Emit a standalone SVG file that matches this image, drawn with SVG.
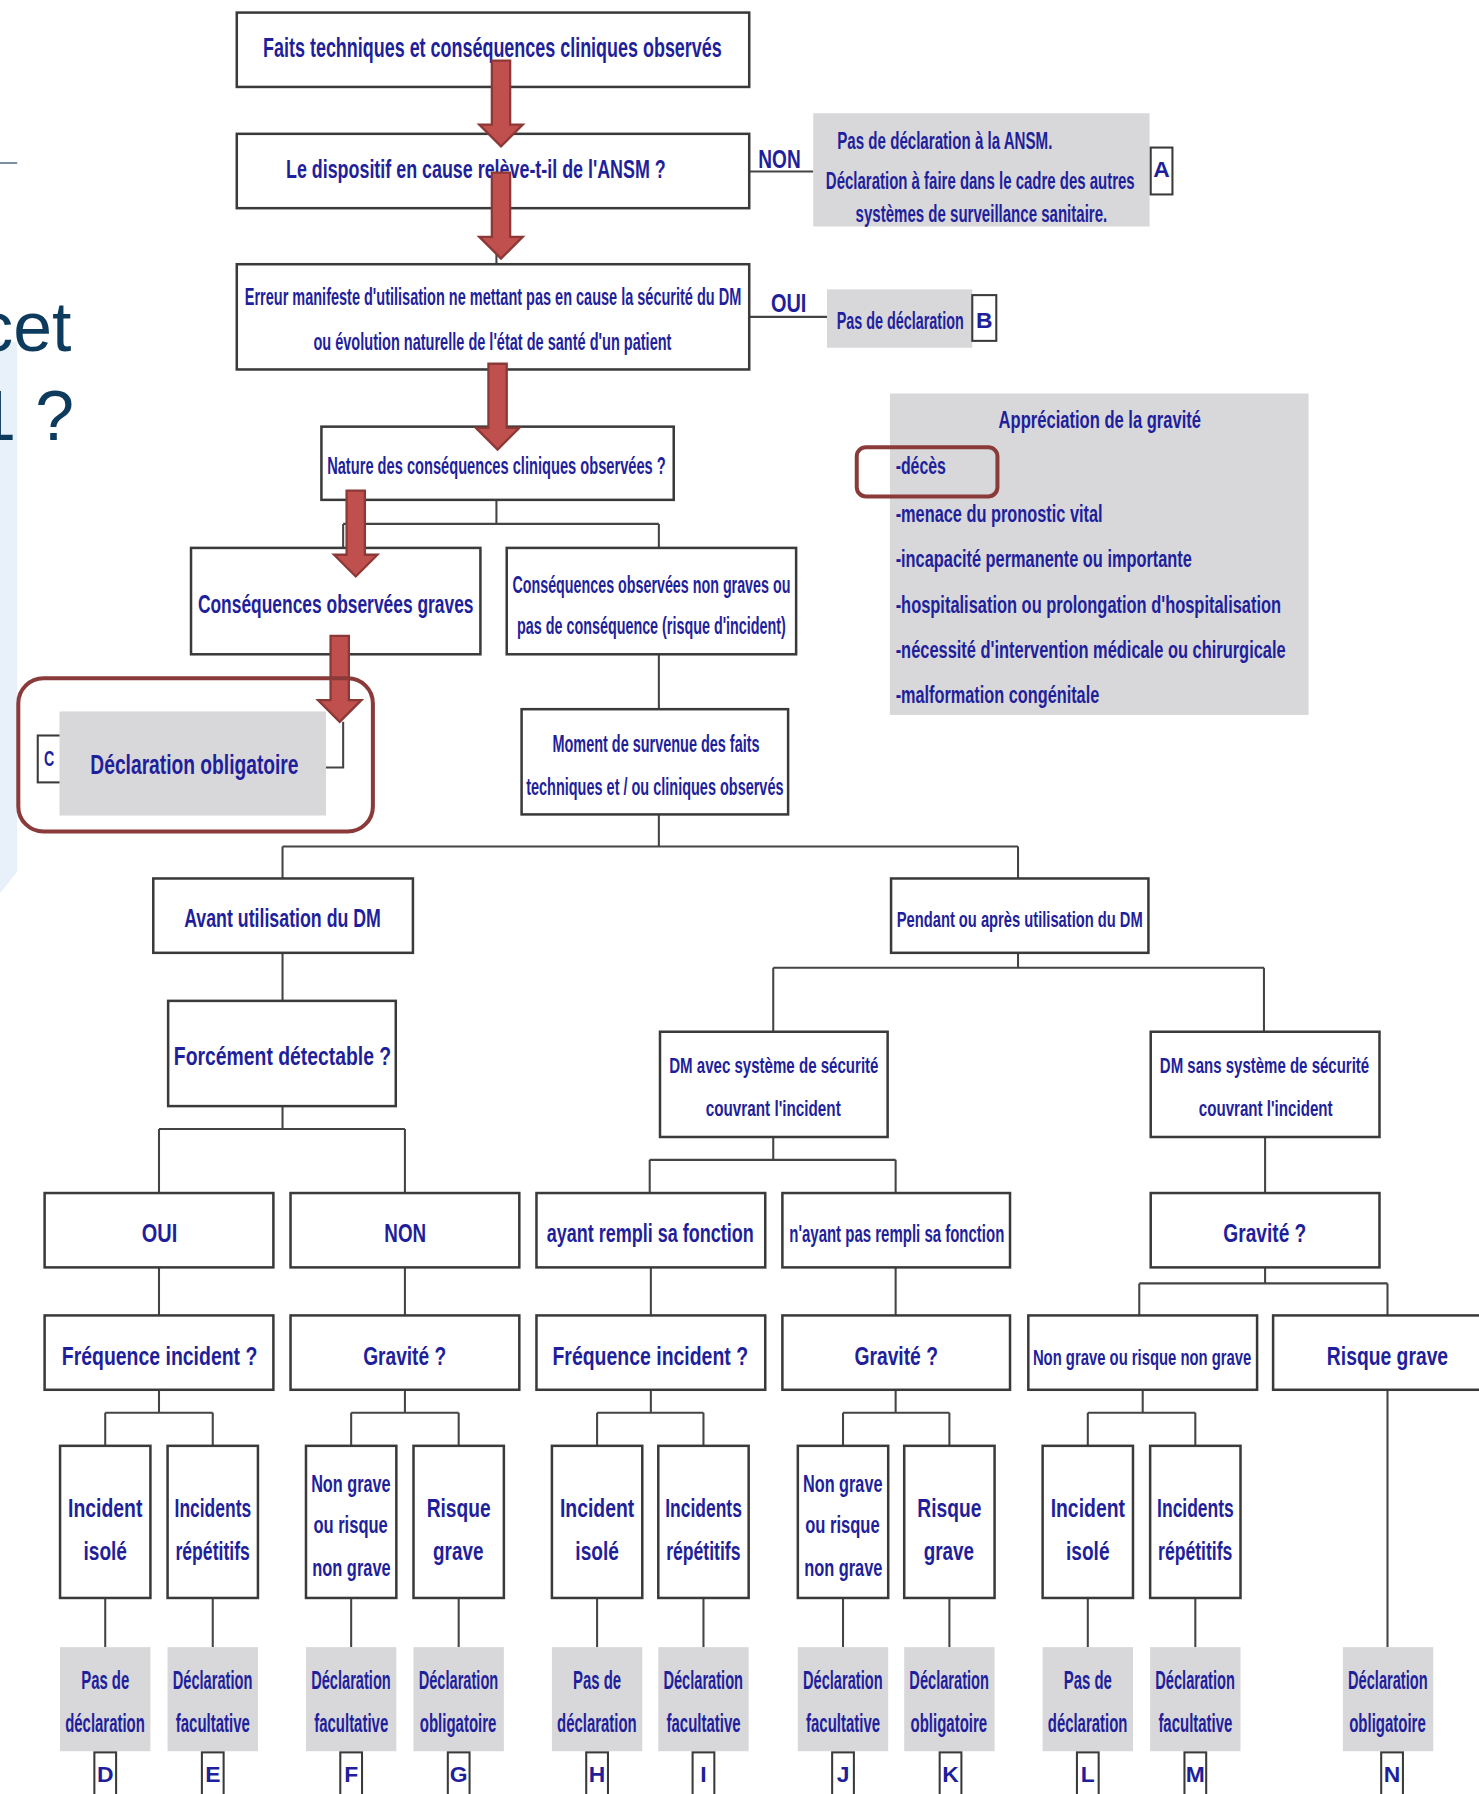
<svg xmlns="http://www.w3.org/2000/svg" xmlns:xlink="http://www.w3.org/1999/xlink" width="1479" height="1794" viewBox="0 0 1479 1794">
<style>
.t{font-family:"Liberation Sans Narrow","Liberation Sans",Arial,sans-serif;font-weight:bold;fill:#1f1f9c}
.bx{fill:#fff;stroke:#3a3a3a;stroke-width:2.2}
.gr{fill:#d8d8da}
.lb{fill:#fff;stroke:#3a3a3a;stroke-width:1.8}
.ln{fill:none;stroke:#444;stroke-width:1.8}
.hl{fill:none;stroke:#8b3a3a;stroke-width:3.5}
.s19{font-size:19px}.s20{font-size:20px}.s21{font-size:21px}.s22{font-size:22px}.s23{font-size:23px}.s24{font-size:24px}
.slide{font-family:"Liberation Sans",Arial,sans-serif;fill:#0d3b5e;font-size:61px}
</style>
<defs>
<path id="arr" d="M-8,-75 L8,-75 L8,-19 L19,-19 L0,0 L-19,-19 L-8,-19 Z" fill="#c0504d" stroke="#8c3836" stroke-width="2"/>
</defs>
<rect x="0" y="0" width="1479" height="1794" fill="#fff"/>
<g transform="scale(1.14385)">
<g id="slide-background">
<path d="M0,299 L15,299 L15,762 L0,781 Z" fill="#e8f0f9"/>
<line x1="0" y1="142.5" x2="15" y2="142.5" stroke="#3d5b78" stroke-width="1.2"/>
<text class="slide" x="-19" y="307">cet</text>
<text class="slide" x="-20" y="385">1 ?</text>
</g>

<g id="connectors">
<path class="ln" d="M434,75 V117 M434,182 V231 M434,323 V373"/>
<path class="ln" d="M434,437 V458 M300,458 H576 M300,458 V479 M576,458 V479"/>
<path class="ln" d="M576,572 V620 M576,712 V740 M247,740 H890 M247,740 V768 M890,740 V768"/>
<path class="ln" d="M247,833 V875 M890,833 V846 M676,846 H1105 M676,846 V902 M1105,846 V902"/>
<path class="ln" d="M247,967 V987 M139,987 H354 M139,987 V1043 M354,987 V1043"/>
<path class="ln" d="M676,994 V1014 M568,1014 H783 M568,1014 V1043 M783,1014 V1043 M1106,994 V1043"/>
<path class="ln" d="M139,1108 V1150 M354,1108 V1150 M569,1108 V1150 M783,1108 V1150"/>
<path class="ln" d="M1106,1108 V1122 M996,1122 H1213 M996,1122 V1150 M1213,1122 V1150"/>
<path class="ln" d="M139,1215 V1235 M92,1235 H186 M92,1235 V1264 M186,1235 V1264"/>
<path class="ln" d="M354,1215 V1235 M307,1235 H401 M307,1235 V1264 M401,1235 V1264"/>
<path class="ln" d="M569,1215 V1235 M522,1235 H615 M522,1235 V1264 M615,1235 V1264"/>
<path class="ln" d="M783,1215 V1235 M737,1235 H830 M737,1235 V1264 M830,1235 V1264"/>
<path class="ln" d="M999,1215 V1235 M951,1235 H1045 M951,1235 V1264 M1045,1235 V1264"/>
<path class="ln" d="M92,1397 V1440 M186,1397 V1440 M307,1397 V1440 M401,1397 V1440 M522,1397 V1440 M615,1397 V1440 M737,1397 V1440 M830,1397 V1440 M951,1397 V1440 M1045,1397 V1440 M1213,1215 V1440"/>
<path class="ln" d="M655,150 H711 M655,277 H723 M285,671 H300 V631"/>
<text class="t s23" x="663" y="147" textLength="37" lengthAdjust="spacingAndGlyphs">NON</text>
<text class="t s23" x="674" y="273" textLength="31" lengthAdjust="spacingAndGlyphs">OUI</text>
</g>

<g id="n-faits">
<rect class="bx" x="207" y="11" width="448" height="65"/>
<text class="t s24" x="230" y="50" textLength="401" lengthAdjust="spacingAndGlyphs">Faits techniques et conséquences cliniques observés</text>
</g>
<g id="n-ansm">
<rect class="bx" x="207" y="117" width="448" height="65"/>
<text class="t s23" x="250" y="156" textLength="332" lengthAdjust="spacingAndGlyphs">Le dispositif en cause relève-t-il de l'ANSM ?</text>
</g>
<g id="n-erreur">
<rect class="bx" x="207" y="231" width="448" height="92"/>
<text class="t s21" x="214" y="267" textLength="434" lengthAdjust="spacingAndGlyphs">Erreur manifeste d'utilisation ne mettant pas en cause la sécurité du DM</text>
<text class="t s21" x="274" y="306" textLength="313" lengthAdjust="spacingAndGlyphs">ou évolution naturelle de l'état de santé d'un patient</text>
</g>
<g id="n-A">
<rect class="gr" x="711" y="99" width="294" height="99"/>
<text class="t s21" x="732" y="130" textLength="188" lengthAdjust="spacingAndGlyphs">Pas de déclaration à la ANSM.</text>
<text class="t s21" x="722" y="165" textLength="270" lengthAdjust="spacingAndGlyphs">Déclaration à faire dans le cadre des autres</text>
<text class="t s21" x="748" y="194" textLength="220" lengthAdjust="spacingAndGlyphs">systèmes de surveillance sanitaire.</text>
<rect class="lb" x="1006" y="129" width="19" height="41"/>
<text class="t s20" x="1015.5" y="155" text-anchor="middle">A</text>
</g>
<g id="n-B">
<rect class="gr" x="723" y="253" width="127" height="51"/>
<text class="t s21" x="731.5" y="287.5" textLength="111" lengthAdjust="spacingAndGlyphs">Pas de déclaration</text>
<rect class="lb" x="850" y="258" width="21" height="40"/>
<text class="t s20" x="860.5" y="287" text-anchor="middle">B</text>
</g>
<g id="n-gravite-info">
<rect class="gr" x="778" y="344" width="366" height="281"/>
<text class="t s21" x="873" y="374.5" textLength="177" lengthAdjust="spacingAndGlyphs">Appréciation de la gravité</text>
<text class="t s21" x="783" y="414.5" textLength="44" lengthAdjust="spacingAndGlyphs">-décès</text>
<text class="t s21" x="783" y="456" textLength="181" lengthAdjust="spacingAndGlyphs">-menace du pronostic vital</text>
<text class="t s21" x="783" y="496" textLength="259" lengthAdjust="spacingAndGlyphs">-incapacité permanente ou importante</text>
<text class="t s21" x="783" y="535.5" textLength="337" lengthAdjust="spacingAndGlyphs">-hospitalisation ou prolongation d'hospitalisation</text>
<text class="t s21" x="783" y="575.5" textLength="341" lengthAdjust="spacingAndGlyphs">-nécessité d'intervention médicale ou chirurgicale</text>
<text class="t s21" x="783" y="615" textLength="178" lengthAdjust="spacingAndGlyphs">-malformation congénitale</text>
</g>
<g id="n-nature">
<rect class="bx" x="281" y="373" width="308" height="64"/>
<text class="t s21" x="286" y="414" textLength="296" lengthAdjust="spacingAndGlyphs">Nature des conséquences cliniques observées ?</text>
</g>
<g id="n-graves">
<rect class="bx" x="167" y="479" width="253" height="93"/>
<text class="t s23" x="173" y="536" textLength="241" lengthAdjust="spacingAndGlyphs">Conséquences observées graves</text>
</g>
<g id="n-nongraves">
<rect class="bx" x="443" y="479" width="253" height="93"/>
<text class="t s21" x="448" y="518" textLength="243" lengthAdjust="spacingAndGlyphs">Conséquences observées non graves ou</text>
<text class="t s21" x="452" y="554" textLength="235" lengthAdjust="spacingAndGlyphs">pas de conséquence (risque d'incident)</text>
</g>
<g id="n-C">
<rect class="lb" x="33" y="643" width="21" height="41"/>
<text class="t s20" x="38.5" y="670" textLength="9" lengthAdjust="spacingAndGlyphs">C</text>
<rect class="gr" x="52" y="622" width="233" height="91"/>
<text class="t s24" x="79" y="677" textLength="182" lengthAdjust="spacingAndGlyphs">Déclaration obligatoire</text>
</g>
<g id="n-moment">
<rect class="bx" x="456" y="620" width="233" height="92"/>
<text class="t s21" x="483" y="657" textLength="181" lengthAdjust="spacingAndGlyphs">Moment de survenue des faits</text>
<text class="t s21" x="460" y="695" textLength="225" lengthAdjust="spacingAndGlyphs">techniques et / ou cliniques observés</text>
</g>
<g id="n-avant">
<rect class="bx" x="134" y="768" width="227" height="65"/>
<text class="t s22" x="161" y="810" textLength="172" lengthAdjust="spacingAndGlyphs">Avant utilisation du DM</text>
</g>
<g id="n-pendant">
<rect class="bx" x="779" y="768" width="225" height="65"/>
<text class="t s20" x="784" y="810" textLength="215" lengthAdjust="spacingAndGlyphs">Pendant ou après utilisation du DM</text>
</g>
<g id="n-detectable">
<rect class="bx" x="147" y="875" width="199" height="92"/>
<text class="t s23" x="152" y="931" textLength="190" lengthAdjust="spacingAndGlyphs">Forcément détectable ?</text>
</g>
<g id="n-avec">
<rect class="bx" x="577" y="902" width="199" height="92"/>
<text class="t s20" x="585" y="938" textLength="183" lengthAdjust="spacingAndGlyphs">DM avec système de sécurité</text>
<text class="t s20" x="617" y="976" textLength="118" lengthAdjust="spacingAndGlyphs">couvrant l'incident</text>
</g>
<g id="n-sans">
<rect class="bx" x="1006" y="902" width="200" height="92"/>
<text class="t s20" x="1014" y="938" textLength="183" lengthAdjust="spacingAndGlyphs">DM sans système de sécurité</text>
<text class="t s20" x="1048" y="976" textLength="117" lengthAdjust="spacingAndGlyphs">couvrant l'incident</text>
</g>

<g id="n-oui">
<rect class="bx" x="39" y="1043" width="200" height="65"/>
<text class="t s23" x="124" y="1086" textLength="31" lengthAdjust="spacingAndGlyphs">OUI</text>
</g>
<g id="n-non">
<rect class="bx" x="254" y="1043" width="200" height="65"/>
<text class="t s23" x="336" y="1086" textLength="36.5" lengthAdjust="spacingAndGlyphs">NON</text>
</g>
<g id="n-ayant">
<rect class="bx" x="469" y="1043" width="200" height="65"/>
<text class="t s22" x="478" y="1086" textLength="181" lengthAdjust="spacingAndGlyphs">ayant rempli sa fonction</text>
</g>
<g id="n-nayant">
<rect class="bx" x="684" y="1043" width="199" height="65"/>
<text class="t s21" x="690" y="1086" textLength="188" lengthAdjust="spacingAndGlyphs">n'ayant pas rempli sa fonction</text>
</g>
<g id="n-gravite-sans">
<rect class="bx" x="1006" y="1043" width="200" height="65"/>
<text class="t s23" x="1069.5" y="1086" textLength="72.5" lengthAdjust="spacingAndGlyphs">Gravité ?</text>
</g>

<g id="n-freq1">
<rect class="bx" x="39" y="1150" width="200" height="65"/>
<text class="t s23" x="54" y="1193" textLength="171" lengthAdjust="spacingAndGlyphs">Fréquence incident ?</text>
</g>
<g id="n-grav1">
<rect class="bx" x="254" y="1150" width="200" height="65"/>
<text class="t s23" x="317.5" y="1193" textLength="72.5" lengthAdjust="spacingAndGlyphs">Gravité ?</text>
</g>
<g id="n-freq2">
<rect class="bx" x="469" y="1150" width="200" height="65"/>
<text class="t s23" x="483" y="1193" textLength="171" lengthAdjust="spacingAndGlyphs">Fréquence incident ?</text>
</g>
<g id="n-grav2">
<rect class="bx" x="684" y="1150" width="199" height="65"/>
<text class="t s23" x="747" y="1193" textLength="73" lengthAdjust="spacingAndGlyphs">Gravité ?</text>
</g>
<g id="n-nongrave">
<rect class="bx" x="899" y="1150" width="200" height="65"/>
<text class="t s20" x="903" y="1193" textLength="191" lengthAdjust="spacingAndGlyphs">Non grave ou risque non grave</text>
</g>
<g id="n-risquegrave">
<rect class="bx" x="1113" y="1150" width="200" height="65"/>
<text class="t s23" x="1160" y="1193" textLength="106" lengthAdjust="spacingAndGlyphs">Risque grave</text>
</g>

<g id="n-incident1">
<rect class="bx" x="52.5" y="1264" width="79" height="133"/>
<text class="t s23" x="59.5" y="1326" textLength="65" lengthAdjust="spacingAndGlyphs">Incident</text>
<text class="t s23" x="73" y="1364" textLength="38" lengthAdjust="spacingAndGlyphs">isolé</text>
</g>
<g id="n-incidents1">
<rect class="bx" x="146.5" y="1264" width="79" height="133"/>
<text class="t s23" x="152.6" y="1326" textLength="67" lengthAdjust="spacingAndGlyphs">Incidents</text>
<text class="t s23" x="153.4" y="1364" textLength="65" lengthAdjust="spacingAndGlyphs">répétitifs</text>
</g>
<g id="n-ng1">
<rect class="bx" x="267.5" y="1264" width="79" height="133"/>
<text class="t s21" x="272" y="1304" textLength="69.5" lengthAdjust="spacingAndGlyphs">Non grave</text>
<text class="t s21" x="274" y="1340" textLength="65" lengthAdjust="spacingAndGlyphs">ou risque</text>
<text class="t s21" x="273" y="1378" textLength="68.5" lengthAdjust="spacingAndGlyphs">non grave</text>
</g>
<g id="n-rg1">
<rect class="bx" x="361.5" y="1264" width="79" height="133"/>
<text class="t s23" x="373" y="1326" textLength="56" lengthAdjust="spacingAndGlyphs">Risque</text>
<text class="t s23" x="378.6" y="1364" textLength="44" lengthAdjust="spacingAndGlyphs">grave</text>
</g>
<g id="n-incident2">
<rect class="bx" x="482.5" y="1264" width="79" height="133"/>
<text class="t s23" x="489.5" y="1326" textLength="65" lengthAdjust="spacingAndGlyphs">Incident</text>
<text class="t s23" x="503" y="1364" textLength="38" lengthAdjust="spacingAndGlyphs">isolé</text>
</g>
<g id="n-incidents2">
<rect class="bx" x="575.5" y="1264" width="79" height="133"/>
<text class="t s23" x="581.6" y="1326" textLength="67" lengthAdjust="spacingAndGlyphs">Incidents</text>
<text class="t s23" x="582.4" y="1364" textLength="65" lengthAdjust="spacingAndGlyphs">répétitifs</text>
</g>
<g id="n-ng2">
<rect class="bx" x="697.5" y="1264" width="79" height="133"/>
<text class="t s21" x="702" y="1304" textLength="69.5" lengthAdjust="spacingAndGlyphs">Non grave</text>
<text class="t s21" x="704" y="1340" textLength="65" lengthAdjust="spacingAndGlyphs">ou risque</text>
<text class="t s21" x="703" y="1378" textLength="68.5" lengthAdjust="spacingAndGlyphs">non grave</text>
</g>
<g id="n-rg2">
<rect class="bx" x="790.5" y="1264" width="79" height="133"/>
<text class="t s23" x="802" y="1326" textLength="56" lengthAdjust="spacingAndGlyphs">Risque</text>
<text class="t s23" x="807.6" y="1364" textLength="44" lengthAdjust="spacingAndGlyphs">grave</text>
</g>
<g id="n-incident3">
<rect class="bx" x="911.5" y="1264" width="79" height="133"/>
<text class="t s23" x="918.5" y="1326" textLength="65" lengthAdjust="spacingAndGlyphs">Incident</text>
<text class="t s23" x="932" y="1364" textLength="38" lengthAdjust="spacingAndGlyphs">isolé</text>
</g>
<g id="n-incidents3">
<rect class="bx" x="1005.5" y="1264" width="79" height="133"/>
<text class="t s23" x="1011.6" y="1326" textLength="67" lengthAdjust="spacingAndGlyphs">Incidents</text>
<text class="t s23" x="1012.4" y="1364" textLength="65" lengthAdjust="spacingAndGlyphs">répétitifs</text>
</g>

<g id="n-D">
<rect class="gr" x="52.5" y="1440" width="79" height="91"/>
<text class="t s22" x="71" y="1477" textLength="42" lengthAdjust="spacingAndGlyphs">Pas de</text>
<text class="t s22" x="57" y="1514" textLength="69.6" lengthAdjust="spacingAndGlyphs">déclaration</text>
<rect class="lb" x="82.5" y="1532" width="19" height="45"/>
<text class="t s20" x="92" y="1558" text-anchor="middle">D</text>
</g>
<g id="n-E">
<rect class="gr" x="146.5" y="1440" width="79" height="91"/>
<text class="t s22" x="151" y="1477" textLength="69.6" lengthAdjust="spacingAndGlyphs">Déclaration</text>
<text class="t s22" x="153.7" y="1514" textLength="64.7" lengthAdjust="spacingAndGlyphs">facultative</text>
<rect class="lb" x="176.5" y="1532" width="19" height="45"/>
<text class="t s20" x="186" y="1558" text-anchor="middle">E</text>
</g>
<g id="n-F">
<rect class="gr" x="267.5" y="1440" width="79" height="91"/>
<text class="t s22" x="272" y="1477" textLength="69.6" lengthAdjust="spacingAndGlyphs">Déclaration</text>
<text class="t s22" x="274.7" y="1514" textLength="64.7" lengthAdjust="spacingAndGlyphs">facultative</text>
<rect class="lb" x="297.5" y="1532" width="19" height="45"/>
<text class="t s20" x="307" y="1558" text-anchor="middle">F</text>
</g>
<g id="n-G">
<rect class="gr" x="361.5" y="1440" width="79" height="91"/>
<text class="t s22" x="366" y="1477" textLength="69.6" lengthAdjust="spacingAndGlyphs">Déclaration</text>
<text class="t s22" x="367" y="1514" textLength="67" lengthAdjust="spacingAndGlyphs">obligatoire</text>
<rect class="lb" x="391.5" y="1532" width="19" height="45"/>
<text class="t s20" x="401" y="1558" text-anchor="middle">G</text>
</g>
<g id="n-H">
<rect class="gr" x="482.5" y="1440" width="79" height="91"/>
<text class="t s22" x="501" y="1477" textLength="42" lengthAdjust="spacingAndGlyphs">Pas de</text>
<text class="t s22" x="487" y="1514" textLength="69.6" lengthAdjust="spacingAndGlyphs">déclaration</text>
<rect class="lb" x="512.5" y="1532" width="19" height="45"/>
<text class="t s20" x="522" y="1558" text-anchor="middle">H</text>
</g>
<g id="n-I">
<rect class="gr" x="575.5" y="1440" width="79" height="91"/>
<text class="t s22" x="580" y="1477" textLength="69.6" lengthAdjust="spacingAndGlyphs">Déclaration</text>
<text class="t s22" x="582.7" y="1514" textLength="64.7" lengthAdjust="spacingAndGlyphs">facultative</text>
<rect class="lb" x="605.5" y="1532" width="19" height="45"/>
<text class="t s20" x="615" y="1558" text-anchor="middle">I</text>
</g>
<g id="n-J">
<rect class="gr" x="697.5" y="1440" width="79" height="91"/>
<text class="t s22" x="702" y="1477" textLength="69.6" lengthAdjust="spacingAndGlyphs">Déclaration</text>
<text class="t s22" x="704.7" y="1514" textLength="64.7" lengthAdjust="spacingAndGlyphs">facultative</text>
<rect class="lb" x="727.5" y="1532" width="19" height="45"/>
<text class="t s20" x="737" y="1558" text-anchor="middle">J</text>
</g>
<g id="n-K">
<rect class="gr" x="790.5" y="1440" width="79" height="91"/>
<text class="t s22" x="795" y="1477" textLength="69.6" lengthAdjust="spacingAndGlyphs">Déclaration</text>
<text class="t s22" x="796" y="1514" textLength="67" lengthAdjust="spacingAndGlyphs">obligatoire</text>
<rect class="lb" x="821.5" y="1532" width="19" height="45"/>
<text class="t s20" x="831" y="1558" text-anchor="middle">K</text>
</g>
<g id="n-L">
<rect class="gr" x="911.5" y="1440" width="79" height="91"/>
<text class="t s22" x="930" y="1477" textLength="42" lengthAdjust="spacingAndGlyphs">Pas de</text>
<text class="t s22" x="916" y="1514" textLength="69.6" lengthAdjust="spacingAndGlyphs">déclaration</text>
<rect class="lb" x="941.5" y="1532" width="19" height="45"/>
<text class="t s20" x="951" y="1558" text-anchor="middle">L</text>
</g>
<g id="n-M">
<rect class="gr" x="1005.5" y="1440" width="79" height="91"/>
<text class="t s22" x="1010" y="1477" textLength="69.6" lengthAdjust="spacingAndGlyphs">Déclaration</text>
<text class="t s22" x="1012.7" y="1514" textLength="64.7" lengthAdjust="spacingAndGlyphs">facultative</text>
<rect class="lb" x="1035.5" y="1532" width="19" height="45"/>
<text class="t s20" x="1045" y="1558" text-anchor="middle">M</text>
</g>
<g id="n-N">
<rect class="gr" x="1174" y="1440" width="79" height="91"/>
<text class="t s22" x="1178.5" y="1477" textLength="69.6" lengthAdjust="spacingAndGlyphs">Déclaration</text>
<text class="t s22" x="1179.5" y="1514" textLength="67" lengthAdjust="spacingAndGlyphs">obligatoire</text>
<rect class="lb" x="1207.5" y="1532" width="19" height="45"/>
<text class="t s20" x="1217" y="1558" text-anchor="middle">N</text>
</g>

<g id="arrows">
<use xlink:href="#arr" x="438" y="128"/>
<use xlink:href="#arr" x="438" y="226"/>
<use xlink:href="#arr" x="435" y="393"/>
<use xlink:href="#arr" x="311" y="504"/>
<use xlink:href="#arr" x="297" y="631"/>
</g>

<g id="highlights">
<rect class="hl" x="16" y="593" width="310" height="134" rx="22"/>
<rect class="hl" x="749" y="391" width="123" height="43" rx="8"/>
</g>
</g>
</svg>
